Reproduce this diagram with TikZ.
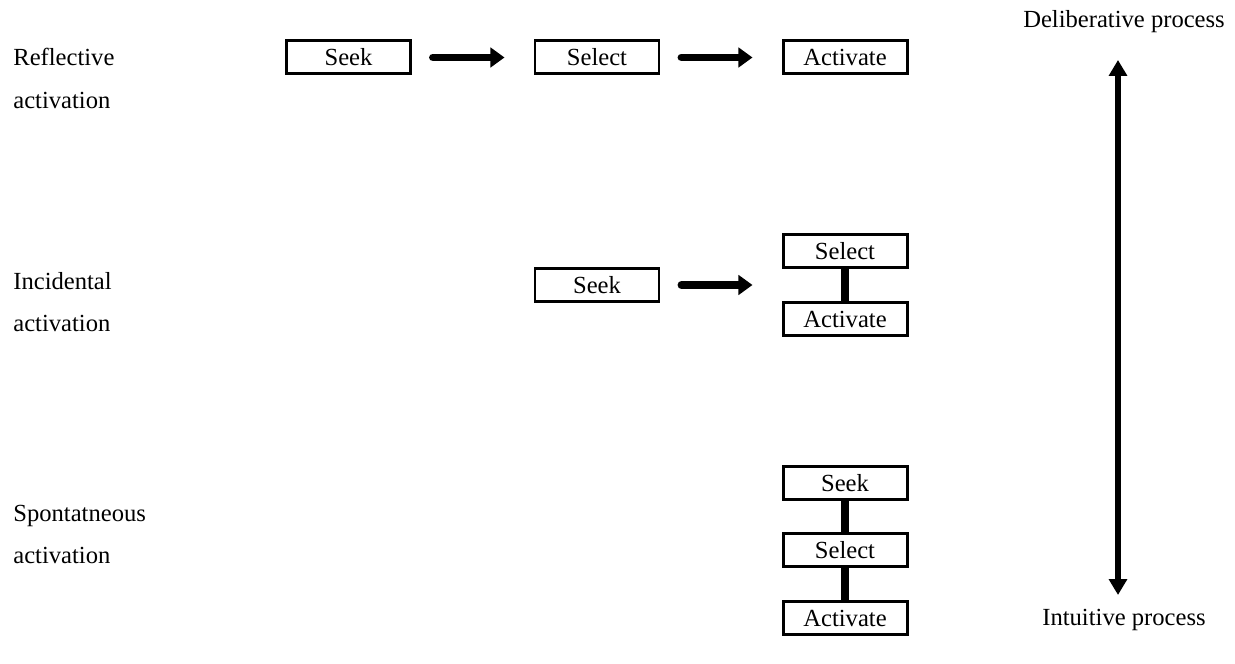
\documentclass[tikz,border=0pt]{standalone}
\usepackage{fontspec}
\setmainfont{Liberation Serif}
\usetikzlibrary{arrows.meta, positioning}

\begin{document}
\begin{tikzpicture}[
    stepbox/.style={draw, line width=1.7pt, minimum width=2.48cm, minimum height=0.66cm, inner sep=0pt, font=\fontsize{14}{16}\selectfont},
    rowlabel/.style={anchor=west, align=left, inner sep=0pt, font=\fontsize{14}{24}\selectfont},
    flow/.style={-{Triangle[width=11pt, length=8pt]}, line width=4.5pt, line cap=round, shorten <=0.42cm, shorten >=0.58cm},
    link/.style={line width=5pt}
  ]
  \useasboundingbox (0,0) rectangle (24.7,13.28);

  % Etiquetas de fila
  \node[rowlabel] (lblrefl) at (0.26,11.71) {Reflective\\activation};
  \node[rowlabel] (lblinc) at (0.26,7.23) {Incidental\\activation};
  \node[rowlabel] (lblspon) at (0.26,2.59) {Spontatneous\\activation};

  % Reflective activation
  \node[stepbox] (seekA) at (6.97,12.13) {Seek};
  \node[stepbox] (selectA) at (11.94,12.13) {Select};
  \node[stepbox] (activateA) at (16.90,12.13) {Activate};
  \draw[flow] (seekA) -- (selectA);
  \draw[flow] (selectA) -- (activateA);

  % Incidental activation
  \node[stepbox] (seekB) at (11.94,7.58) {Seek};
  \node[stepbox] (selectB) at (16.90,8.26) {Select};
  \node[stepbox] (activateB) at (16.90,6.90) {Activate};
  \draw[flow] (seekB) -- (seekB -| selectB.west);
  \draw[link] (selectB) -- (activateB);

  % Spontaneous activation
  \node[stepbox] (seekC) at (16.90,3.62) {Seek};
  \node[stepbox] (selectC) at (16.90,2.28) {Select};
  \node[stepbox] (activateC) at (16.90,0.92) {Activate};
  \draw[link] (seekC) -- (selectC);
  \draw[link] (selectC) -- (activateC);

  % Eje deliberativo / intuitivo
  \node[font=\fontsize{14}{16}\selectfont] (delib) at (22.48,12.84) {Deliberative process};
  \node[font=\fontsize{14}{16}\selectfont] (intuit) at (22.48,0.88) {Intuitive process};
  \coordinate (axistop) at (22.36,12.08);
  \coordinate (axisbot) at (22.36,1.38);
  \draw[{Triangle[width=10pt, length=9pt]}-{Triangle[width=10pt, length=9pt]}, line width=3.4pt] (axistop) -- (axisbot);
\end{tikzpicture}
\end{document}
